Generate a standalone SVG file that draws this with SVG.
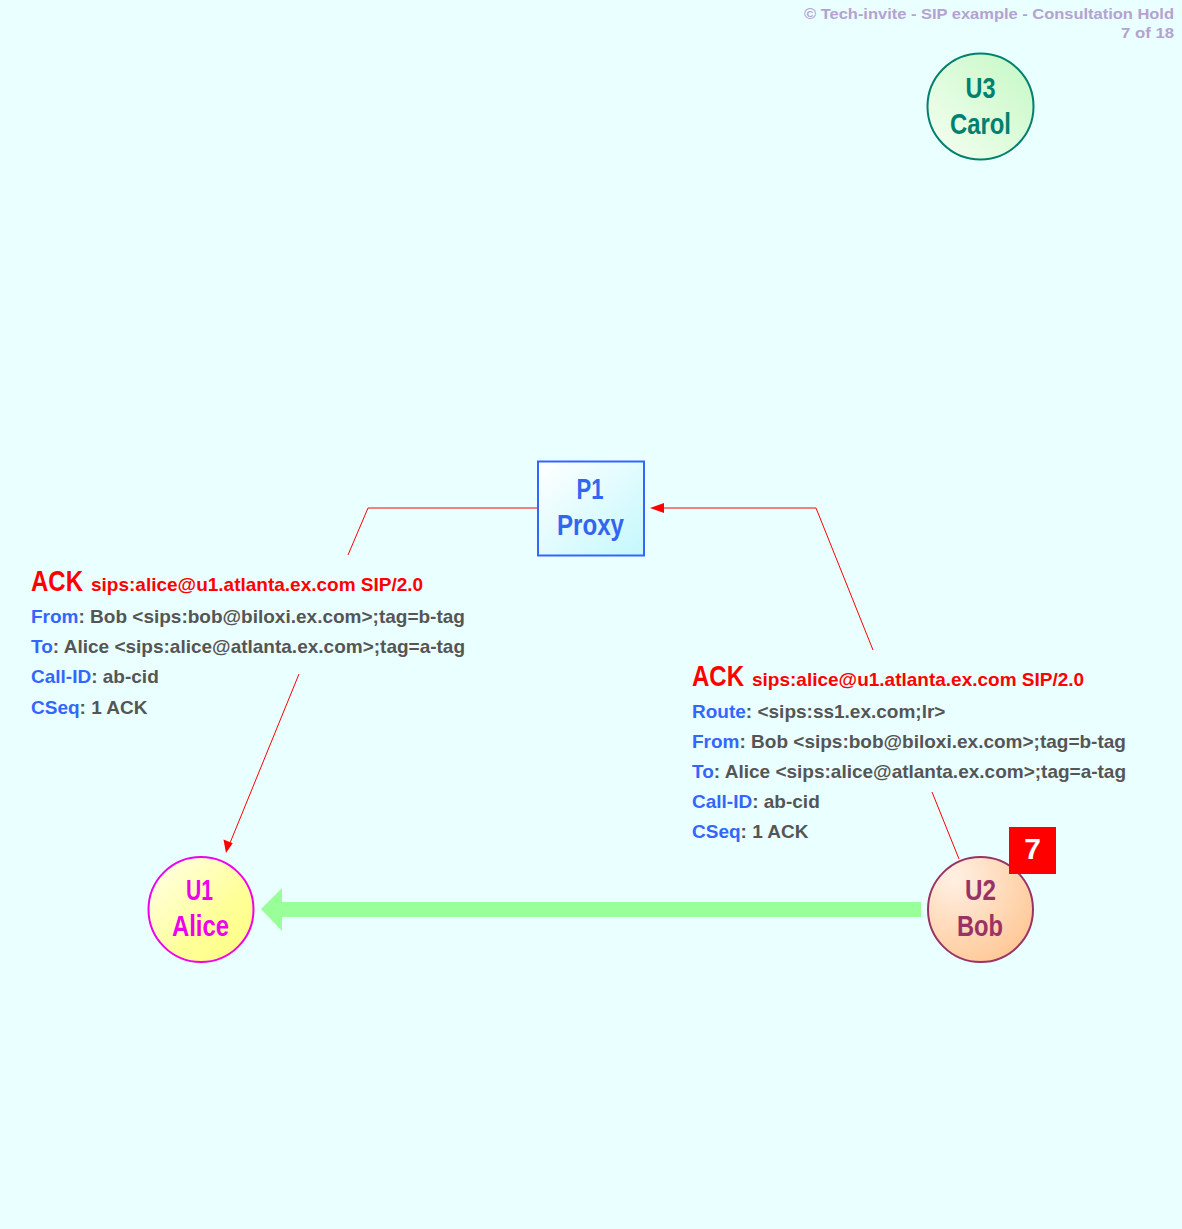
<svg xmlns="http://www.w3.org/2000/svg" width="1182" height="1229" viewBox="0 0 1182 1229">
<style>
.lbl{font-family:"Liberation Sans",Arial,sans-serif;font-weight:bold;text-anchor:middle;font-size:30px}
.msg{font-family:"Liberation Sans",Arial,sans-serif;font-weight:bold;font-size:19px;fill:#555555}
.hd{fill:#3366ff}
.red{fill:#ff0000;font-family:"Liberation Sans",Arial,sans-serif;font-weight:bold}
.conn{stroke:#ff0000;stroke-width:1;fill:none}
.title{font-family:"Liberation Sans",Arial,sans-serif;font-weight:bold;font-size:15px;fill:#b4a2d0;text-anchor:end}
</style>
<defs>
<linearGradient id="gCarol" x1="0" y1="1" x2="1" y2="0"><stop offset="0" stop-color="#f6fff2"/><stop offset="1" stop-color="#c4f8c4"/></linearGradient>
<linearGradient id="gAlice" x1="0" y1="0" x2="1" y2="1"><stop offset="0" stop-color="#ffffee"/><stop offset="0.6" stop-color="#ffff99"/><stop offset="1" stop-color="#ffff80"/></linearGradient>
<radialGradient id="gBob" cx="0.25" cy="0.2" r="0.9"><stop offset="0" stop-color="#fff0e4"/><stop offset="1" stop-color="#ffc896"/></radialGradient>
<linearGradient id="gProxy" x1="0" y1="0" x2="1" y2="1"><stop offset="0" stop-color="#ffffff"/><stop offset="1" stop-color="#c4f8fc"/></linearGradient>
</defs>
<rect x="0" y="0" width="1182" height="1229" fill="#eaffff"/>
<text class="title" x="1174" y="19" textLength="370" lengthAdjust="spacingAndGlyphs">© Tech-invite - SIP example - Consultation Hold</text>
<text class="title" x="1174" y="38" textLength="53" lengthAdjust="spacingAndGlyphs">7 of 18</text>

<g id="connectors">
<polygon points="261,909 282,888 282,902 921,902 921,917 282,917 282,931" fill="#99ff99"/>
<polyline class="conn" points="873,650 816,508 662,508"/>
<polygon points="650,508 664,503 664,513" fill="#ff0000"/>
<polyline class="conn" points="537,508 368,508 348,555"/>
<line class="conn" x1="299" y1="674" x2="230" y2="843"/>
<polygon points="226,853 223.5,839.5 232.7,843.3" fill="#ff0000"/>
<line class="conn" x1="932" y1="792" x2="959" y2="859"/>
</g>

<g id="msg-left">
<text class="red" x="31" y="591" font-size="30" textLength="52" lengthAdjust="spacingAndGlyphs">ACK</text>
<text class="red" x="91" y="591" font-size="19">sips:alice@u1.atlanta.ex.com SIP/2.0</text>
<text class="msg" x="31" y="623"><tspan class="hd">From</tspan>: Bob &lt;sips:bob@biloxi.ex.com&gt;;tag=b-tag</text>
<text class="msg" x="31" y="653"><tspan class="hd">To</tspan>: Alice &lt;sips:alice@atlanta.ex.com&gt;;tag=a-tag</text>
<text class="msg" x="31" y="683"><tspan class="hd">Call-ID</tspan>: ab-cid</text>
<text class="msg" x="31" y="714"><tspan class="hd">CSeq</tspan>: 1 ACK</text>
</g>

<g id="msg-right">
<text class="red" x="692" y="686" font-size="30" textLength="52" lengthAdjust="spacingAndGlyphs">ACK</text>
<text class="red" x="752" y="686" font-size="19">sips:alice@u1.atlanta.ex.com SIP/2.0</text>
<text class="msg" x="692" y="718"><tspan class="hd">Route</tspan>: &lt;sips:ss1.ex.com;lr&gt;</text>
<text class="msg" x="692" y="748"><tspan class="hd">From</tspan>: Bob &lt;sips:bob@biloxi.ex.com&gt;;tag=b-tag</text>
<text class="msg" x="692" y="778"><tspan class="hd">To</tspan>: Alice &lt;sips:alice@atlanta.ex.com&gt;;tag=a-tag</text>
<text class="msg" x="692" y="808"><tspan class="hd">Call-ID</tspan>: ab-cid</text>
<text class="msg" x="692" y="838"><tspan class="hd">CSeq</tspan>: 1 ACK</text>
</g>

<g id="U3">
<circle cx="980.5" cy="106.5" r="53" fill="url(#gCarol)" stroke="#00806e" stroke-width="2"/>
<text class="lbl" x="980.5" y="98" fill="#00806e" textLength="30" lengthAdjust="spacingAndGlyphs">U3</text>
<text class="lbl" x="980.5" y="134" fill="#00806e" textLength="61" lengthAdjust="spacingAndGlyphs">Carol</text>
</g>

<g id="P1">
<rect x="538" y="461.5" width="106" height="94" fill="url(#gProxy)" stroke="#3366ff" stroke-width="2"/>
<text class="lbl" x="590" y="499" fill="#3366ee" textLength="27" lengthAdjust="spacingAndGlyphs">P1</text>
<text class="lbl" x="590.5" y="535" fill="#3366ee" textLength="67" lengthAdjust="spacingAndGlyphs">Proxy</text>
</g>

<g id="U1">
<circle cx="201" cy="909.5" r="52.5" fill="url(#gAlice)" stroke="#ee00ee" stroke-width="2"/>
<text class="lbl" x="199.5" y="900" fill="#ee00ee" textLength="27" lengthAdjust="spacingAndGlyphs">U1</text>
<text class="lbl" x="200.5" y="936" fill="#ee00ee" textLength="57" lengthAdjust="spacingAndGlyphs">Alice</text>
</g>

<g id="U2">
<circle cx="980.5" cy="909.5" r="52.5" fill="url(#gBob)" stroke="#993366" stroke-width="2"/>
<text class="lbl" x="980.5" y="900" fill="#993366" textLength="31" lengthAdjust="spacingAndGlyphs">U2</text>
<text class="lbl" x="980" y="936" fill="#993366" textLength="46" lengthAdjust="spacingAndGlyphs">Bob</text>
</g>

<g id="step">
<rect x="1009" y="827" width="47" height="47" fill="#ff0000"/>
<text class="lbl" x="1032.5" y="859" fill="#ffffff" font-size="27">7</text>
</g>
</svg>
